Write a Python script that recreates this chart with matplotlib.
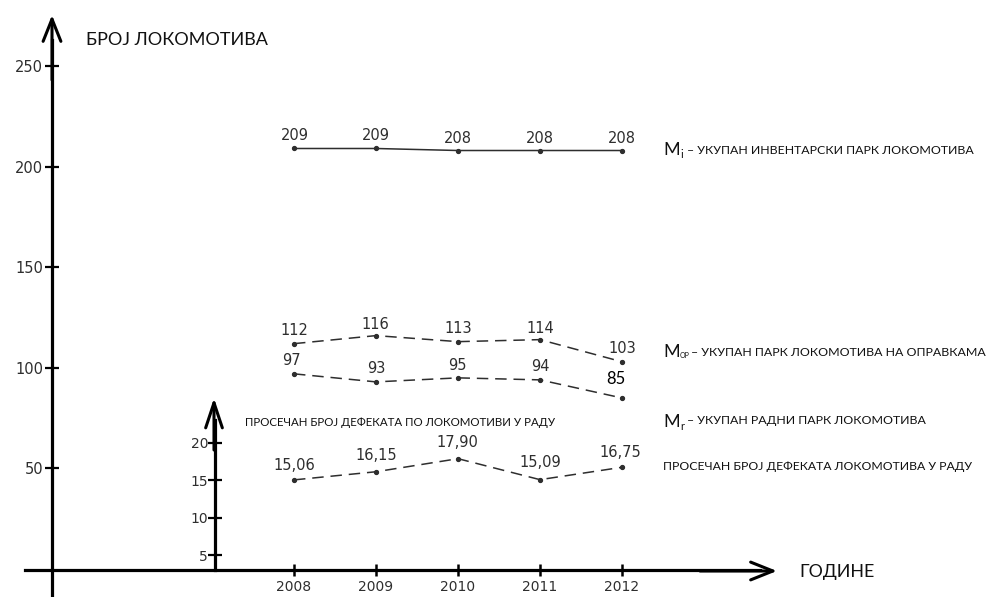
import matplotlib
matplotlib.use('Agg')
import matplotlib.pyplot as plt

# ---------------- data ----------------
years = [2008, 2009, 2010, 2011, 2012]
year_labels = ['2008', '2009', '2010', '2011', '2012']
inventory = [209, 209, 208, 208, 208]          # Mi
repair = [112, 116, 113, 114, 103]             # Mop
working = [97, 93, 95, 94, 85]                 # Mr
defects = [15.06, 16.15, 17.90, 15.09, 16.75]
defect_labels = ['15,06', '16,15', '17,90', '15,09', '16,75']
main_ticks = [50, 100, 150, 200, 250]
small_ticks = [5, 10, 15, 20]

# ---------------- layout helpers (pixel -> data) ----------------
W, H = 990, 597
X2008, PXY = 294, 82.0
X0 = 2008 - X2008 / PXY
def xd(px):
    return X0 + px / PXY
def yd(py):
    return (569 - py) / 2.012
def yd2(py):
    return 20 + (443 - py) / 7.467

INK = '#2e2e2e'
SCAN = 'DejaVu Sans'
SANS = 'Lato'

fig = plt.figure(figsize=(W / 100, H / 100), dpi=100)
ax = fig.add_axes([0, 0, 1, 1])
ax.set_xlim(xd(0), xd(W))
ax.set_ylim(yd(H), yd(0))
ax.patch.set_alpha(0)

for s in ('top', 'right'):
    ax.spines[s].set_visible(False)
ax.spines['left'].set_position(('data', xd(52)))
ax.spines['left'].set_bounds(yd(H), yd(40))
ax.spines['bottom'].set_position(('data', yd(570)))
ax.spines['bottom'].set_bounds(xd(25), xd(760))
for s in ('left', 'bottom'):
    ax.spines[s].set_linewidth(2.3)
    ax.spines[s].set_color('black')

ax.set_yticks(main_ticks)
ax.set_yticklabels([str(t) for t in main_ticks])
ax.set_xticks(years)
ax.set_xticklabels(year_labels)
ax.tick_params(axis='y', direction='inout', length=10.5, width=1.6, pad=1,
               labelsize=10.5, labelcolor=INK)
ax.tick_params(axis='x', direction='inout', length=9, width=1.8, pad=3,
               labelsize=10, labelcolor=INK)
for lab in ax.get_xticklabels() + ax.get_yticklabels():
    lab.set_family(SCAN)

# small axis for defects
ax2 = ax.twinx()
ax2.set_ylim(yd2(H), yd2(0))
for s in ('top', 'right', 'bottom'):
    ax2.spines[s].set_visible(False)
ax2.spines['left'].set_visible(True)
ax2.spines['left'].set_position(('data', xd(215)))
ax2.spines['left'].set_bounds(yd2(570), yd2(420))
ax2.spines['left'].set_linewidth(2.3)
ax2.yaxis.set_ticks_position('left')
ax2.set_yticks(small_ticks)
ax2.set_yticklabels([str(t) for t in small_ticks])
ax2.tick_params(axis='y', direction='inout', length=10, width=1.6, pad=0,
                labelsize=10, labelcolor=INK)
for lab in ax2.get_yticklabels():
    lab.set_family(SCAN)

arrow_kw = dict(arrowstyle='->,head_length=0.8,head_width=0.32', lw=2.2,
                color='black', shrinkA=0, shrinkB=0, mutation_scale=20)
ax.annotate('', xy=(xd(52), yd(15)), xytext=(xd(52), yd(80)), arrowprops=arrow_kw)
ax.annotate('', xy=(xd(777), yd(571)), xytext=(xd(700), yd(571)), arrowprops=arrow_kw)
ax.annotate('', xy=(xd(214), yd(398)), xytext=(xd(214), yd(450)),
            arrowprops=dict(arrow_kw, arrowstyle='->,head_length=0.9,head_width=0.3'))

# ---------------- series ----------------
line_kw = dict(color=INK, lw=1.1, marker='o', ms=2.8)
ax.plot(years, inventory, '-', **line_kw)
ax.plot(years, repair, dashes=(7.5, 4.5), **line_kw)
ax.plot(years, working, dashes=(7.5, 4.5), **line_kw)
ax2.plot(years, defects, dashes=(7.5, 4.5), **line_kw)

def labels(axis, xs, ys, texts, offs, **kw):
    for x, y, t, o in zip(xs, ys, texts, offs):
        axis.annotate(t, (x, y), xytext=o, textcoords='offset pixels',
                      ha='center', va='center', **kw)

lab_kw = dict(fontsize=10.5, color=INK, family=SCAN)
labels(ax, years, inventory, [str(v) for v in inventory],
       [(1, 13), (0, 13), (0, 12), (0, 12), (0, 12)], **lab_kw)
labels(ax, years, repair, [str(v) for v in repair],
       [(0, 13), (-1, 11), (0, 13), (0, 11), (0, 13)], **lab_kw)
labels(ax, years[:4], working[:4], [str(v) for v in working[:4]],
       [(-3, 13), (0, 13), (-1, 12), (0, 13)], **lab_kw)
labels(ax, years[4:], working[4:], [str(v) for v in working[4:]],
       [(-6, 19)], fontsize=12, color='black', family=SANS)
labels(ax2, years, defects, defect_labels,
       [(0, 14), (0, 16), (-1, 16), (0, 17), (-2, 15)], **lab_kw)

# ---------------- texts ----------------
def ftext(px, py, s, **kw):
    kw.setdefault('family', SANS)
    kw.setdefault('va', 'center')
    kw.setdefault('ha', 'left')
    kw.setdefault('color', '#111111')
    return fig.text(px / W, 1 - py / H, s, **kw)

ftext(86, 40, 'БРОЈ ЛОКОМОТИВА', fontsize=13)
ftext(799, 572, 'ГОДИНЕ', fontsize=12.8)
ftext(245, 422, 'ПРОСЕЧАН БРОЈ ДЕФЕКАТА ПО ЛОКОМОТИВИ У РАДУ', fontsize=8.3)

ftext(663, 150, 'M', fontsize=13)
ftext(680, 155, 'i', fontsize=8)
ftext(687, 150, '– УКУПАН ИНВЕНТАРСКИ ПАРК ЛОКОМОТИВА', fontsize=8.9)

ftext(663, 352, 'M', fontsize=13)
ftext(680, 356, 'ОР', fontsize=5)
ftext(691, 352, '– УКУПАН ПАРК ЛОКОМОТИВА НА ОПРАВКАМА', fontsize=8.9)

ftext(663, 422, 'M', fontsize=13)
ftext(680, 426, 'r', fontsize=8)
ftext(687, 421, '– УКУПАН РАДНИ ПАРК ЛОКОМОТИВА', fontsize=8.9)

ftext(663, 466, 'ПРОСЕЧАН БРОЈ ДЕФЕКАТА ЛОКОМОТИВА У РАДУ', fontsize=8.8)

fig.savefig('out.png', dpi=100)
